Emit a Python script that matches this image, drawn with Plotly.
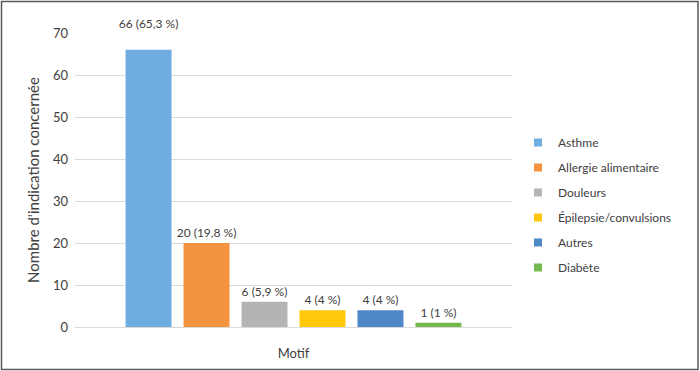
import plotly.graph_objects as go

categories = ["Asthme", "Allergie alimentaire", "Douleurs", "Épilepsie/convulsions", "Autres", "Diabète"]
values = [66, 20, 6, 4, 4, 1]
labels = ["66 (65,3 %)", "20 (19,8 %)", "6 (5,9 %)", "4 (4 %)", "4 (4 %)", "1 (1 %)"]
colors = ["#6FADE0", "#F5943F", "#B4B4B4", "#FFC80B", "#5087C7", "#74B94E"]
x_label = "Motif"
y_ticks = [0, 10, 20, 30, 40, 50, 60, 70]

FONT = "Lato, 'Open Sans', sans-serif"
fig = go.Figure()
for i, (c, v, t, col) in enumerate(zip(categories, values, labels, colors)):
    txt = t + "<br> " if i == 0 else t  # first label sits higher in the reference
    fig.add_trace(go.Bar(
        x=[x_label], y=[v], name=c, text=[txt], textposition="outside",
        constraintext="none",
        textfont=dict(size=12, color="#404040", family=FONT),
        marker=dict(color=col, line=dict(width=0)),
        cliponaxis=False, showlegend=False, hoverinfo="name+y",
    ))
for i, (c, col) in enumerate(zip(categories, colors)):
    fig.add_trace(go.Scatter(
        x=[None], y=[None], mode="markers", name=c, legendgroup=c,
        marker=dict(symbol="square", size=8, color=col), showlegend=True,
    ))

L, R, T, B = 75, 188, 33, 44
W, H = 700, 371
pw, ph = W - L - R, H - T - B

fig.update_layout(
    width=W, height=H,
    margin=dict(l=L, r=R, t=T, b=B, autoexpand=False),
    barmode="group", bargap=0.204, bargroupgap=0.207,
    plot_bgcolor="white", paper_bgcolor="white",
    font=dict(family=FONT, color="#404040", size=12),
    showlegend=True,
    legend=dict(x=(518 - L) / pw, y=0.415, xanchor="left", yanchor="middle",
                font=dict(size=12, color="#404040"), traceorder="grouped",
                tracegroupgap=6, itemwidth=30, bgcolor="rgba(0,0,0,0)"),
    xaxis=dict(showgrid=False, showline=True, linecolor="#D9D9D9", linewidth=1,
               ticks="", tickfont=dict(size=13, color="#404040"), ticklabelstandoff=14,
               automargin=False),
    yaxis=dict(range=[0, 70], tickvals=y_ticks, showgrid=True, gridcolor="#D9D9D9",
               gridwidth=1, zeroline=False, showline=False, ticks="",
               tickfont=dict(size=13, color="#404040"), ticklabelstandoff=6, automargin=False,
               title=dict(text="Nombre d'indication concernée", font=dict(size=15, color="#404040"), standoff=9)),
    shapes=[dict(type="rect", xref="paper", yref="paper",
                 x0=(1.5 - L) / pw, x1=(698 - L) / pw,
                 y0=(T + ph - 369.5) / ph, y1=(T + ph - 1.5) / ph,
                 line=dict(color="#595959", width=1.5), fillcolor="rgba(0,0,0,0)", layer="above")],
)

fig.write_html("out.html", config={"displayModeBar": False},
               post_script="document.body.style.margin='0';document.body.style.overflow='hidden';")
